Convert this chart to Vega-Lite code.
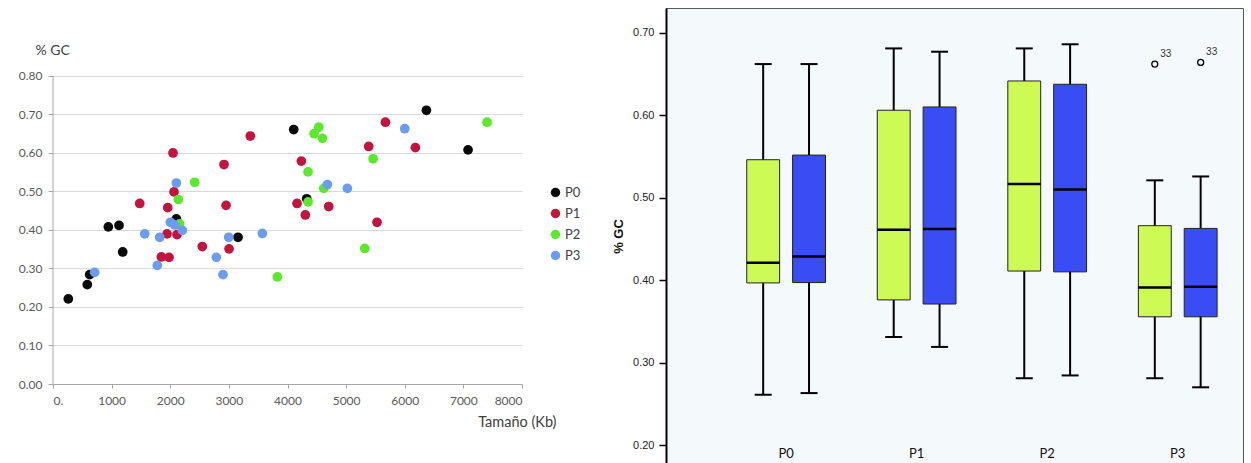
{
  "$schema": "https://vega.github.io/schema/vega-lite/v6.json",
  "padding": {"left": 18, "top": 7, "right": 0, "bottom": 0},
  "background": "white",
  "spacing": 31,
  "config": {"font": "Lato"},
  "resolve": {"scale": {"color": "independent", "x": "independent", "y": "independent"}, "legend": {"color": "independent"}},
  "hconcat": [
    {
      "width": 469,
      "height": 376,
      "view": {"stroke": null},
      "layer": [
        {
          "data": {"values": [
            {"serie": "P0", "tamano": 261, "gc": 0.221},
            {"serie": "P0", "tamano": 585, "gc": 0.258},
            {"serie": "P0", "tamano": 626, "gc": 0.284},
            {"serie": "P0", "tamano": 944, "gc": 0.408},
            {"serie": "P0", "tamano": 1126, "gc": 0.412},
            {"serie": "P0", "tamano": 1189, "gc": 0.343},
            {"serie": "P0", "tamano": 2104, "gc": 0.429},
            {"serie": "P0", "tamano": 3156, "gc": 0.381},
            {"serie": "P0", "tamano": 4106, "gc": 0.661},
            {"serie": "P0", "tamano": 4328, "gc": 0.481},
            {"serie": "P0", "tamano": 6369, "gc": 0.711},
            {"serie": "P0", "tamano": 7080, "gc": 0.608},
            {"serie": "P1", "tamano": 1479, "gc": 0.469},
            {"serie": "P1", "tamano": 1957, "gc": 0.458},
            {"serie": "P1", "tamano": 2047, "gc": 0.600},
            {"serie": "P1", "tamano": 2064, "gc": 0.499},
            {"serie": "P1", "tamano": 2917, "gc": 0.570},
            {"serie": "P1", "tamano": 2952, "gc": 0.464},
            {"serie": "P1", "tamano": 3366, "gc": 0.644},
            {"serie": "P1", "tamano": 4163, "gc": 0.469},
            {"serie": "P1", "tamano": 4236, "gc": 0.579},
            {"serie": "P1", "tamano": 4304, "gc": 0.439},
            {"serie": "P1", "tamano": 1945, "gc": 0.390},
            {"serie": "P1", "tamano": 2115, "gc": 0.388},
            {"serie": "P1", "tamano": 1848, "gc": 0.330},
            {"serie": "P1", "tamano": 1979, "gc": 0.329},
            {"serie": "P1", "tamano": 2547, "gc": 0.357},
            {"serie": "P1", "tamano": 3003, "gc": 0.351},
            {"serie": "P1", "tamano": 5670, "gc": 0.680},
            {"serie": "P1", "tamano": 5385, "gc": 0.617},
            {"serie": "P1", "tamano": 6181, "gc": 0.614},
            {"serie": "P1", "tamano": 4703, "gc": 0.461},
            {"serie": "P1", "tamano": 5527, "gc": 0.420},
            {"serie": "P2", "tamano": 2417, "gc": 0.524},
            {"serie": "P2", "tamano": 2138, "gc": 0.479},
            {"serie": "P2", "tamano": 2161, "gc": 0.416},
            {"serie": "P2", "tamano": 3827, "gc": 0.278},
            {"serie": "P2", "tamano": 4533, "gc": 0.667},
            {"serie": "P2", "tamano": 4453, "gc": 0.650},
            {"serie": "P2", "tamano": 4595, "gc": 0.638},
            {"serie": "P2", "tamano": 5460, "gc": 0.585},
            {"serie": "P2", "tamano": 4351, "gc": 0.551},
            {"serie": "P2", "tamano": 4618, "gc": 0.508},
            {"serie": "P2", "tamano": 4351, "gc": 0.473},
            {"serie": "P2", "tamano": 5318, "gc": 0.352},
            {"serie": "P2", "tamano": 7404, "gc": 0.680},
            {"serie": "P3", "tamano": 711, "gc": 0.290},
            {"serie": "P3", "tamano": 1564, "gc": 0.390},
            {"serie": "P3", "tamano": 2104, "gc": 0.522},
            {"serie": "P3", "tamano": 1820, "gc": 0.381},
            {"serie": "P3", "tamano": 1779, "gc": 0.308},
            {"serie": "P3", "tamano": 2002, "gc": 0.420},
            {"serie": "P3", "tamano": 2076, "gc": 0.413},
            {"serie": "P3", "tamano": 2206, "gc": 0.399},
            {"serie": "P3", "tamano": 2997, "gc": 0.381},
            {"serie": "P3", "tamano": 2786, "gc": 0.329},
            {"serie": "P3", "tamano": 2900, "gc": 0.284},
            {"serie": "P3", "tamano": 3571, "gc": 0.391},
            {"serie": "P3", "tamano": 4680, "gc": 0.518},
            {"serie": "P3", "tamano": 5021, "gc": 0.508},
            {"serie": "P3", "tamano": 6000, "gc": 0.663}
          ]},
          "mark": {"type": "circle", "size": 95, "opacity": 1},
          "encoding": {
            "x": {"field": "tamano", "type": "quantitative",
              "scale": {"domain": [0, 8000], "nice": false},
              "axis": {"title": "Tamaño (Kb)", "values": [0,1000,2000,3000,4000,5000,6000,7000,8000], "format": "d",
                "labelExpr": "datum.value == 0 ? '0.' : datum.label",
                "grid": false, "domainColor": "#A6A6A6", "tickColor": "#A6A6A6", "tickSize": 4, "labelPadding": 7,
                "labelFontSize": 12, "labelColor": "#595959", "labelFont": "Lato",
                "titleFont": "Lato", "titleFontSize": 14.5, "titleFontWeight": "normal", "titleColor": "#404040",
                "titleAnchor": "end", "titleAlign": "right", "titleX": 503, "titleY": 38, "titleBaseline": "middle"}},
            "y": {"field": "gc", "type": "quantitative",
              "scale": {"domain": [0, 0.9766], "nice": false},
              "axis": {"title": "% GC", "titleAngle": 0, "titleAlign": "left", "titleBaseline": "middle", "titleX": -18, "titleY": 42,
                "titleFont": "Lato", "titleFontSize": 14, "titleFontWeight": "normal", "titleColor": "#404040",
                "values": [0,0.1,0.2,0.3,0.4,0.5,0.6,0.7,0.8], "format": ".2f", "domain": false,
                "grid": true, "gridColor": "#D9D9D9", "tickColor": "#A6A6A6", "tickSize": 5,
                "labelPadding": 6, "labelFontSize": 12, "labelColor": "#595959", "labelFont": "Lato"}},
            "color": {"field": "serie", "type": "nominal",
              "scale": {"domain": ["P0","P1","P2","P3"], "range": ["#0a0a0a", "#C3143F", "#5CE82C", "#6B9CEE"]},
              "legend": {"orient": "none", "legendX": 496, "legendY": 178, "title": null, "symbolSize": 90, "symbolType": "circle",
                "labelFontSize": 13, "labelColor": "#404040", "labelFont": "Lato", "rowPadding": 7, "labelOffset": 3, "symbolStrokeWidth": 0}}
          }
        },
        {
          "data": {"values": [{"eje": "y"}]},
          "mark": {"type": "rule", "color": "#A6A6A6", "strokeWidth": 1},
          "encoding": {"x": {"datum": 0}, "y": {"datum": 0}, "y2": {"datum": 0.8}}
        }
      ]
    },
    {
      "width": 577,
      "height": 456,
      "view": {"fill": "#F4F9FC", "stroke": "#5a5a5a"},
      "data": {"values": [
        {"grupo": "P0", "serie": "A", "min": 0.261, "q1": 0.3966, "mediana": 0.421, "q3": 0.546, "max": 0.662},
        {"grupo": "P0", "serie": "B", "min": 0.263, "q1": 0.397, "mediana": 0.4285, "q3": 0.5516, "max": 0.662},
        {"grupo": "P1", "serie": "A", "min": 0.331, "q1": 0.376, "mediana": 0.461, "q3": 0.606, "max": 0.681},
        {"grupo": "P1", "serie": "B", "min": 0.319, "q1": 0.371, "mediana": 0.462, "q3": 0.610, "max": 0.677},
        {"grupo": "P2", "serie": "A", "min": 0.281, "q1": 0.411, "mediana": 0.5165, "q3": 0.6415, "max": 0.681},
        {"grupo": "P2", "serie": "B", "min": 0.2844, "q1": 0.410, "mediana": 0.510, "q3": 0.6375, "max": 0.686},
        {"grupo": "P3", "serie": "A", "min": 0.281, "q1": 0.3555, "mediana": 0.391, "q3": 0.466, "max": 0.521},
        {"grupo": "P3", "serie": "B", "min": 0.270, "q1": 0.3555, "mediana": 0.392, "q3": 0.4627, "max": 0.5257}
      ]},
      "encoding": {
        "x": {"field": "grupo", "type": "nominal",
          "scale": {"domain": ["P0","P1","P2","P3"], "paddingInner": 0, "paddingOuter": 0.21, "align": 1},
          "axis": {"title": null, "domain": false, "ticks": false, "labelPadding": -17, "labelAngle": 0,
            "labelFontSize": 13, "labelColor": "#111", "labelFont": "Lato"}},
        "xOffset": {"field": "serie", "type": "nominal",
          "scale": {"domain": ["A","B"], "paddingInner": 0.283, "paddingOuter": 0.565}}
      },
      "layer": [
        {
          "mark": {"type": "rule", "color": "black", "strokeWidth": 2},
          "encoding": {
            "y": {"field": "min", "type": "quantitative",
              "scale": {"domain": [0.177, 0.73], "nice": false, "zero": false},
              "axis": {"values": [0.2,0.3,0.4,0.5,0.6,0.7], "format": ".2f", "title": "% GC",
                "titleFont": "Liberation Sans", "titleFontWeight": "bold", "titleFontSize": 13, "titleColor": "#111", "titlePadding": 7,
                "labelFont": "Liberation Sans", "labelFontSize": 11, "labelColor": "#222", "labelPadding": 5,
                "tickSize": 7, "tickColor": "black", "tickWidth": 1.5, "domainColor": "black", "domainWidth": 2, "grid": false}},
            "y2": {"field": "max"}
          }
        },
        {
          "mark": {"type": "tick", "color": "black", "size": 17, "thickness": 2, "opacity": 1},
          "encoding": {"y": {"field": "min", "type": "quantitative"}}
        },
        {
          "mark": {"type": "tick", "color": "black", "size": 17, "thickness": 2, "opacity": 1},
          "encoding": {"y": {"field": "max", "type": "quantitative"}}
        },
        {
          "mark": {"type": "bar", "stroke": "#222", "strokeWidth": 1, "opacity": 1},
          "encoding": {
            "y": {"field": "q1", "type": "quantitative"},
            "y2": {"field": "q3"},
            "color": {"field": "serie", "type": "nominal", "scale": {"domain": ["A","B"], "range": ["#CDFA55", "#3A4DF5"]}, "legend": null}
          }
        },
        {
          "mark": {"type": "tick", "color": "black", "size": 33, "thickness": 2.5, "opacity": 1},
          "encoding": {"y": {"field": "mediana", "type": "quantitative"}}
        },
        {
          "data": {"values": [
            {"grupo": "P3", "serie": "A", "valor": 0.662, "caso": "33"},
            {"grupo": "P3", "serie": "B", "valor": 0.664, "caso": "33"}
          ]},
          "layer": [
            {
              "mark": {"type": "point", "filled": false, "color": "black", "size": 36, "strokeWidth": 1.3, "opacity": 1},
              "encoding": {"y": {"field": "valor", "type": "quantitative"}}
            },
            {
              "mark": {"type": "text", "dx": 11, "dy": -10, "fontSize": 10, "font": "Liberation Sans", "color": "#333"},
              "encoding": {"y": {"field": "valor", "type": "quantitative"}, "text": {"field": "caso"}}
            }
          ]
        }
      ]
    }
  ]
}
